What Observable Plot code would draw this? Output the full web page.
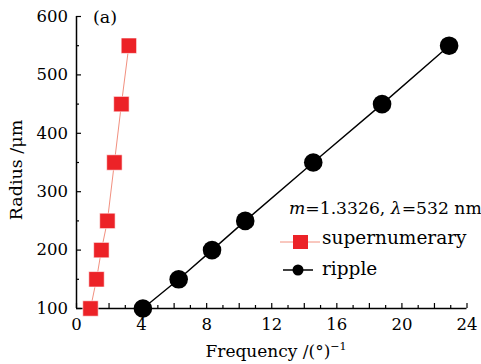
<!DOCTYPE html>
<html><head><meta charset="utf-8">
<script src="https://cdn.jsdelivr.net/npm/d3@7"></script>
<script src="https://cdn.jsdelivr.net/npm/@observablehq/plot@0.6"></script>
<style>
body{margin:0;background:#fff}
#chart svg{font-family:"DejaVu Serif",serif;background:#fff}
</style>
</head><body><div id="chart"></div>
<script>
const radius = [100, 150, 200, 250, 350, 450, 550];
const supFreq = [0.86, 1.23, 1.53, 1.9, 2.33, 2.76, 3.22];
const ripFreq = [4.08, 6.28, 8.33, 10.37, 14.55, 18.78, 22.9];
const xTickLabels = [0, 4, 8, 12, 16, 20, 24];
const yTickLabels = [100, 200, 300, 400, 500, 600];
const xMajorTicks = d3.range(0, 25, 2);
const xMinorTicks = d3.range(1, 24, 2);
const yMajorTicks = [100, 200, 300, 400, 500, 600];
const yMinorTicks = [150, 250, 350, 450, 550];
const seriesNames = ["supernumerary", "ripple"];
const annotation = "(a)";
const xLabel = "Frequency /(°)";
const yLabel = "Radius /μm";

const sup = radius.map((r, i) => ({f: supFreq[i], r}));
const rip = radius.map((r, i) => ({f: ripFreq[i], r}));

const red = "#ec2227";
const redLine = "#f2907f";
const W = 481, H = 364, mL = 76, mR = 14.5, mT = 16, mB = 56;
const frameH = H - mT - mB, frameW = W - mL - mR;

const plot = Plot.plot({
  width: W, height: H,
  marginLeft: mL, marginRight: mR, marginTop: mT, marginBottom: mB,
  style: {fontSize: "16px", fontFamily: "DejaVu Serif, serif", color: "#000", background: "#fff"},
  x: {domain: [0, 24]},
  y: {domain: [100, 600]},
  marks: [
    Plot.axisX(xTickLabels, {tickSize: 0, tickPadding: 10, label: null, fontSize: 16.5}),
    Plot.axisY(yTickLabels, {tickSize: 0, tickPadding: 8.5, label: null, fontSize: 16.5}),
    Plot.tickX(xMajorTicks, {x: d => d, insetTop: frameH - 5, stroke: "#000", strokeWidth: 1.2}),
    Plot.tickX(xMinorTicks, {x: d => d, insetTop: frameH - 3, stroke: "#000", strokeWidth: 1.2}),
    Plot.tickY(yMajorTicks, {y: d => d, insetRight: frameW - 5, stroke: "#000", strokeWidth: 1.2}),
    Plot.tickY(yMinorTicks, {y: d => d, insetRight: frameW - 3, stroke: "#000", strokeWidth: 1.2}),
    Plot.ruleX([0], {stroke: "#000", strokeWidth: 1.5}),
    Plot.ruleY([100], {stroke: "#000", strokeWidth: 1.5}),
    Plot.line(sup, {x: "f", y: "r", stroke: redLine, strokeWidth: 1}),
    Plot.line(rip, {x: "f", y: "r", stroke: "#000", strokeWidth: 1.4}),
    Plot.dot(sup, {x: "f", y: "r", symbol: "square", r: 8.7, fill: red, stroke: "#fff", strokeWidth: 0.6}),
    Plot.dot(rip, {x: "f", y: "r", symbol: "circle", r: 9.3, fill: "#000"})
  ]
});
document.getElementById("chart").appendChild(plot);

const svg = d3.select(plot);
const g = svg.append("g").attr("font-family", "DejaVu Serif, serif").attr("fill", "#000").attr("text-anchor", "start");
// panel annotation
g.append("text").attr("x", 93).attr("y", 23).attr("font-size", 17.5).text(annotation);
// axis labels
g.append("text").attr("transform", "translate(22,170) rotate(-90)")
  .attr("text-anchor", "middle").attr("font-size", 17.5).text(yLabel);
const xl = g.append("text").attr("x", 276).attr("y", 357).attr("text-anchor", "middle").attr("font-size", 17);
xl.append("tspan").text(xLabel);
xl.append("tspan").attr("dy", -7).attr("font-size", 11).text("−1");
// legend
const lt = g.append("text").attr("x", 289).attr("y", 214).attr("font-size", 17.2);
lt.append("tspan").attr("font-style", "italic").text("m");
lt.append("tspan").text("=1.3326, ");
lt.append("tspan").attr("font-style", "italic").text("λ");
lt.append("tspan").text("=532 nm");
g.append("line").attr("x1", 280).attr("x2", 320).attr("y1", 242).attr("y2", 242).attr("stroke", redLine);
g.append("rect").attr("x", 293).attr("y", 235).attr("width", 15).attr("height", 14).attr("fill", red);
g.append("text").attr("x", 322).attr("y", 244).attr("font-size", 18.5).text(seriesNames[0]);
g.append("line").attr("x1", 283).attr("x2", 313).attr("y1", 270).attr("y2", 270).attr("stroke", "#000").attr("stroke-width", 1.5);
g.append("circle").attr("cx", 298).attr("cy", 270).attr("r", 5.5).attr("fill", "#000");
g.append("text").attr("x", 322).attr("y", 275).attr("font-size", 18.5).text(seriesNames[1]);
</script>
</body></html>
